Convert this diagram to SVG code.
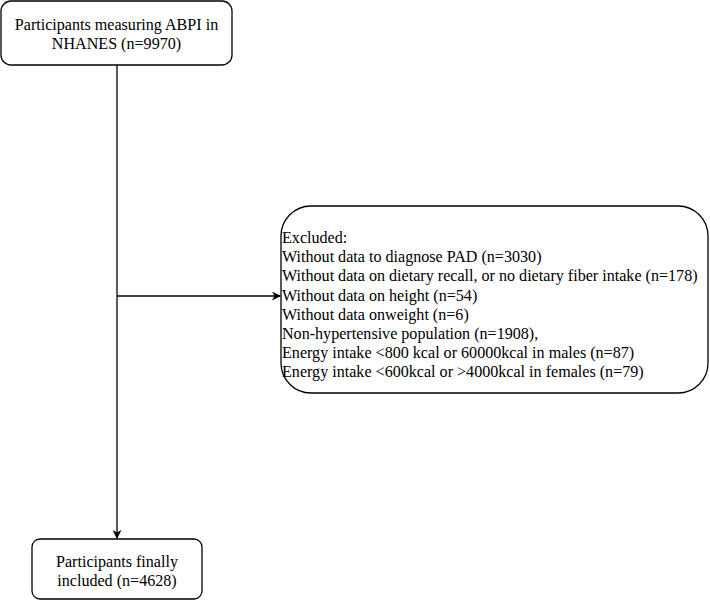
<svg xmlns="http://www.w3.org/2000/svg" width="710" height="600" viewBox="0 0 710 600">
<defs>
<style>
.box{fill:#fff;stroke:#000;stroke-width:1.3}
.t{font-family:"Liberation Serif","Times New Roman",serif;font-size:16.1px;fill:#000}
.c{text-anchor:middle}
.edge{fill:none;stroke:#000;stroke-width:1.3}
</style>
<marker id="ah" viewBox="0 0 10 10" refX="9" refY="5" markerWidth="9" markerHeight="9" markerUnits="userSpaceOnUse" orient="auto">
<path d="M0,0 L10,5 L0,10 L3,5 Z" fill="#000"/>
</marker>
</defs>
<rect width="710" height="600" fill="#fff"/>
<g id="connectors">
<path class="edge" d="M117,65 V538" marker-end="url(#ah)"/>
<path class="edge" d="M117,296 H280" marker-end="url(#ah)"/>
</g>
<g id="start">
<rect class="box" x="1" y="1" width="231" height="64" rx="10"/>
<text class="t c" x="116.5" y="30">Participants measuring ABPI in</text>
<text class="t c" x="116.5" y="49">NHANES (n=9970)</text>
</g>
<g id="excluded">
<rect class="box" x="281" y="206" width="427" height="187" rx="30"/>
<text class="t" x="282" y="243">Excluded:</text>
<text class="t" x="282" y="262">Without data to diagnose PAD (n=3030)</text>
<text class="t" x="282" y="281">Without data on dietary recall, or no dietary fiber intake (n=178)</text>
<text class="t" x="282" y="301">Without data on height (n=54)</text>
<text class="t" x="282" y="320">Without data onweight (n=6)</text>
<text class="t" x="282" y="339">Non-hypertensive population (n=1908),</text>
<text class="t" x="282" y="358">Energy intake &lt;800 kcal or 60000kcal in males (n=87)</text>
<text class="t" x="282" y="377">Energy intake &lt;600kcal or &gt;4000kcal in females (n=79)</text>
</g>
<g id="included">
<rect class="box" x="32" y="539" width="170" height="60" rx="8"/>
<text class="t c" x="117" y="567">Participants finally</text>
<text class="t c" x="117" y="586">included (n=4628)</text>
</g>
</svg>
